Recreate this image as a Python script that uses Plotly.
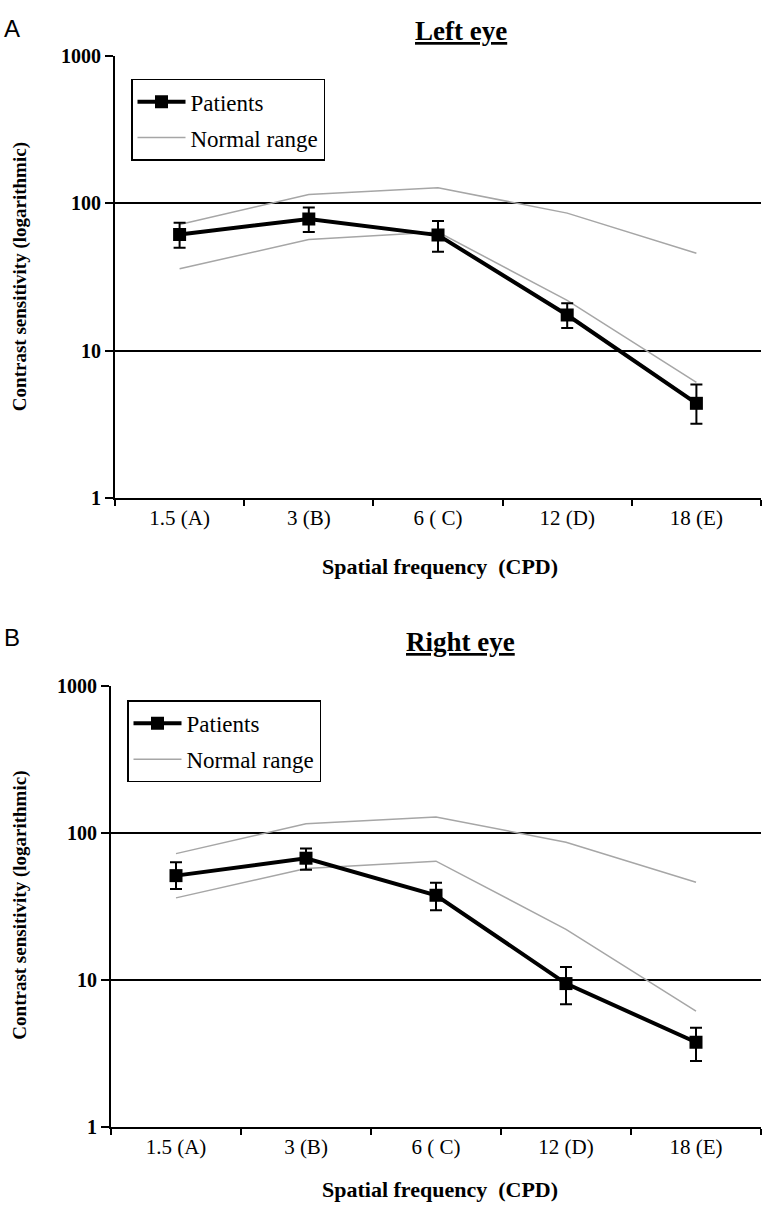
import plotly.graph_objects as go

categories = ["1.5 (A)", "3 (B)", "6 ( C)", "12 (D)", "18 (E)"]
normal_upper = [72, 115, 128, 86, 46]
normal_lower = [36, 57, 64, 22, 6.1]

left_mean = [61.5, 78.5, 61, 17.5, 4.4]
left_err_plus = [12.5, 15.5, 15, 3.5, 1.5]
left_err_minus = [11.5, 14.5, 14, 3.2, 1.2]

right_mean = [51, 67, 37.5, 9.4, 3.75]
right_err_plus = [11.8, 11, 8.2, 2.8, 0.95]
right_err_minus = [9.7, 11, 7.9, 2.6, 0.95]

y_tickvals = [1, 10, 100, 1000]
y_ticktext = ["1", "10", "100", "1000"]

W, H = 764, 1226
SERIF = "Liberation Serif, Times New Roman, serif"

fig = go.Figure()

def add_panel(mean, ep, em, xa, ya, legend):
    fig.add_trace(go.Scatter(
        x=categories, y=normal_upper, mode="lines", name="Normal range",
        line=dict(color="#a6a6a6", width=1.5), xaxis=xa, yaxis=ya,
        legend=legend, showlegend=False, legendgroup="n"))
    fig.add_trace(go.Scatter(
        x=categories, y=normal_lower, mode="lines", name="Normal range",
        line=dict(color="#a6a6a6", width=1.5), xaxis=xa, yaxis=ya,
        legend=legend, showlegend=True, legendgroup="n", legendrank=2))
    fig.add_trace(go.Scatter(
        x=categories, y=mean, mode="lines+markers", name="Patients",
        line=dict(color="black", width=4),
        marker=dict(symbol="square", size=13, color="black"),
        error_y=dict(type="data", array=ep, arrayminus=em, symmetric=False,
                     color="black", thickness=2, width=6),
        xaxis=xa, yaxis=ya, legend=legend, legendgroup="p", legendrank=1))

add_panel(left_mean, left_err_plus, left_err_minus, "x", "y", "legend")
add_panel(right_mean, right_err_plus, right_err_minus, "x2", "y2", "legend2")

def xax(domain, anchor):
    return dict(domain=domain, anchor=anchor, type="category",
                categoryorder="array", categoryarray=categories,
                range=[-0.5, 4.5], showline=True, linecolor="black", linewidth=2,
                ticks="outside", tickson="boundaries", ticklen=6, tickwidth=1.5,
                tickcolor="black", showgrid=False, zeroline=False,
                tickfont=dict(family=SERIF, size=21, color="black"))

def yax(domain, anchor):
    return dict(domain=domain, anchor=anchor, type="log", range=[0, 3],
                tickvals=y_tickvals, ticktext=[f"<b>{t}</b>" for t in y_ticktext],
                showline=True, linecolor="black", linewidth=2,
                ticks="outside", ticklen=8, tickwidth=1.5, tickcolor="black",
                showgrid=True, gridcolor="black", gridwidth=2, zeroline=False,
                tickfont=dict(family=SERIF, size=20, color="black"))

def leg(x, y):
    return dict(x=x / W, y=1 - y / H, xanchor="left", yanchor="top",
                bordercolor="black", borderwidth=1.5, bgcolor="white",
                font=dict(family=SERIF, size=23, color="black"),
                traceorder="grouped", tracegroupgap=3, itemwidth=48)

fig.update_layout(
    width=W, height=H, margin=dict(l=0, r=0, t=0, b=0),
    paper_bgcolor="white", plot_bgcolor="white",
    xaxis=xax([115 / W, 761 / W], "y"),
    yaxis=yax([1 - 496 / H, 1 - 46 / H], "x"),
    xaxis2=xax([111 / W, 761 / W], "y2"),
    yaxis2=yax([1 - 1136 / H, 1 - 687 / H], "x2"),
    legend=leg(131, 69),
    legend2=leg(127, 702),
    showlegend=True,
)

ann = []
for txt, yy in [("A", 18), ("B", 638)]:
    ann.append(dict(text=txt, x=2 / W, y=1 - yy / H, xref="paper", yref="paper",
                    xanchor="left", yanchor="middle", showarrow=False,
                    font=dict(family="Liberation Sans, Arial, sans-serif", size=24, color="black")))
for txt, yy in [("Left eye", 20), ("Right eye", 643)]:
    ann.append(dict(text=f"<b><u>{txt}</u></b>", x=461 / W, y=1 - yy / H,
                    xref="paper", yref="paper", xanchor="center", yanchor="middle",
                    showarrow=False, font=dict(family=SERIF, size=27, color="black")))
for yy in [271, 911]:
    ann.append(dict(text="<b>Contrast sensitivity (logarithmic)</b>", x=20 / W, y=1 - yy / H,
                    xref="paper", yref="paper", xanchor="center", yanchor="middle",
                    textangle=-90, showarrow=False,
                    font=dict(family=SERIF, size=19, color="black")))
for yy in [566, 1200]:
    ann.append(dict(text="<b>Spatial frequency  (CPD)</b>", x=440 / W, y=1 - yy / H,
                    xref="paper", yref="paper", xanchor="center", yanchor="middle",
                    showarrow=False, font=dict(family=SERIF, size=22, color="black")))
fig.update_layout(annotations=ann)

fig.write_html("out.html", config={"displayModeBar": False},
               post_script="document.body.style.margin='0';")
